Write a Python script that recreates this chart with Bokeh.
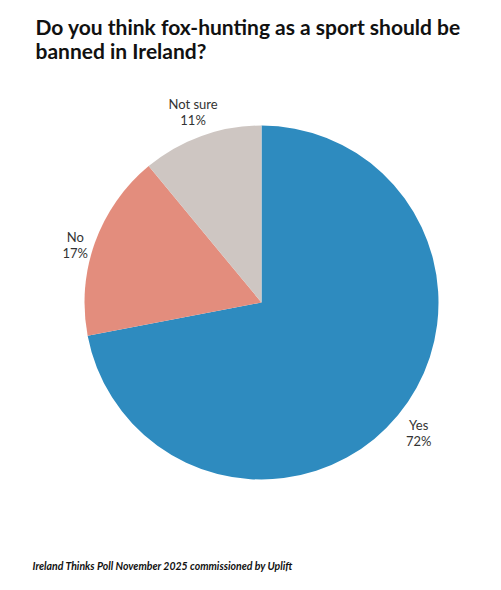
import math
from bokeh.plotting import figure
from bokeh.models import Range1d, ColumnDataSource
from bokeh.core.properties import value
from bokeh.embed import file_html
from bokeh.resources import INLINE

# poll data
answers = ["Yes", "No", "Not sure"]
shares = [72, 17, 11]
colors = ["#2e8bbf", "#e38d7d", "#cec6c2"]

title_lines = ["Do you think fox-hunting as a sport should be", "banned in Ireland?"]
footer = "Ireland Thinks Poll November 2025 commissioned by Uplift"

W, H = 485, 574
p = figure(width=W, height=H, x_range=Range1d(0, W), y_range=Range1d(0, H),
           output_backend="svg", toolbar_location=None, min_border=0)
p.axis.visible = False
p.grid.visible = False
p.outline_line_color = None

cx, cy, r = 261, 272, 177

# slices go clockwise from 12 o'clock
starts, ends, mids = [], [], []
a = math.pi / 2
for s in shares:
    span = s / 100 * 2 * math.pi
    starts.append(a - span)
    ends.append(a)
    mids.append(a - span / 2)
    a -= span

src = ColumnDataSource(dict(start=starts, end=ends, color=colors))
p.wedge(x=cx, y=cy, radius=r, start_angle="start", end_angle="end",
        fill_color="color", line_color=None, source=src)

# labels outside the pie
lr = [204, 198, 202]
lx = [cx + d * math.cos(m) for d, m in zip(lr, mids)]
ly = [cy + d * math.sin(m) for d, m in zip(lr, mids)]
ly[1] -= 10
p.text(x=lx, y=[y + 8 for y in ly], text=answers, text_align="center",
       text_baseline="middle", text_font=value("Lato"), text_font_size="13px",
       text_color="#333333")
p.text(x=lx, y=[y - 8 for y in ly], text=[f"{s}%" for s in shares],
       text_align="center", text_baseline="middle", text_font=value("Lato"),
       text_font_size="13px", text_color="#333333")

# title and footer
p.text(x=[35, 35], y=[548, 524], text=title_lines, text_font=value("Lato"),
       text_font_size="21px", text_font_style="bold", text_color="#111111",
       text_baseline="alphabetic")
p.text(x=[32], y=[9], text=[footer], text_font=value("Lato"),
       text_font_size="10.5px", text_font_style="bold italic",
       text_color="#111111", text_baseline="alphabetic")

open("out.html", "w").write(file_html(p, INLINE))
